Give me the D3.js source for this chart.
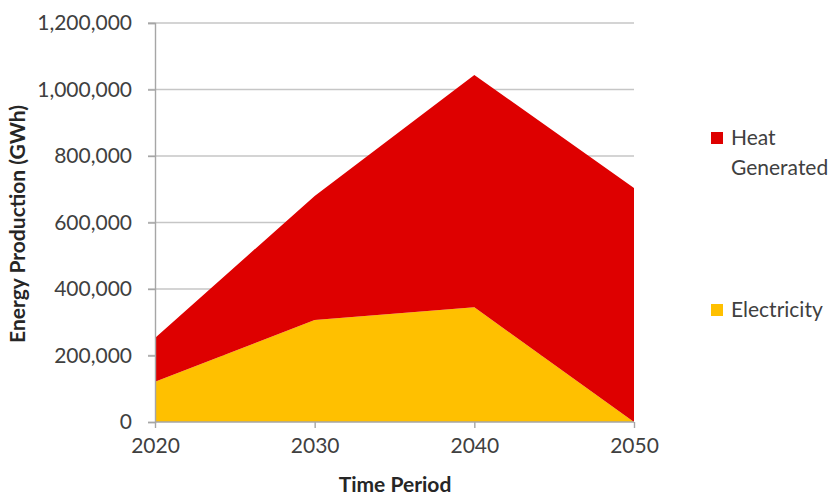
<!DOCTYPE html>
<html>
<head>
<meta charset="utf-8">
<script src="https://cdn.jsdelivr.net/npm/d3@7"></script>
<style>
  html, body { margin: 0; padding: 0; background: #fff; }
  svg { display: block; font-family: Lato, "Open Sans", sans-serif; }
</style>
</head>
<body>
<svg id="chart" width="835" height="495"></svg>
<script>
// Energy production by period, GWh
const periods = [2020, 2030, 2040, 2050];
const electricity = [121000, 307000, 345000, 0];
const heatGenerated = [131600, 373000, 698600, 703700];
const yTicks = [0, 200000, 400000, 600000, 800000, 1000000, 1200000];
const seriesColors = ["#DE0000", "#FFC000"];

const svg = d3.select("#chart");
const margin = { left: 155, right: 201, top: 23, bottom: 73 };
const W = 835, H = 495;

const x = d3.scalePoint().domain(periods).range([margin.left, W - margin.right]);
const y = d3.scaleLinear().domain([0, 1200000]).range([H - margin.bottom, margin.top]);

const rows = periods.map((p, i) => ({ period: p, electricity: electricity[i], heat: heatGenerated[i] }));
const layers = d3.stack().keys(["electricity", "heat"])(rows);

const fmt = d3.format(",");

// horizontal gridlines
svg.append("g")
  .selectAll("line")
  .data(yTicks.slice(1))
  .join("line")
  .attr("x1", margin.left - 7)
  .attr("x2", W - margin.right)
  .attr("y1", d => y(d))
  .attr("y2", d => y(d))
  .attr("stroke", "#C6C6C6")
  .attr("stroke-width", 1.4);

// stacked areas
const area = d3.area()
  .x(d => x(d.data.period))
  .y0(d => y(d[0]))
  .y1(d => y(d[1]));

svg.append("g")
  .selectAll("path")
  .data(layers)
  .join("path")
  .attr("d", area)
  .attr("fill", d => d.key === "heat" ? seriesColors[0] : seriesColors[1]);

// y axis
const yAxis = d3.axisLeft(y).tickValues(yTicks).tickFormat(fmt).tickSize(7).tickPadding(16);
const gy = svg.append("g").attr("transform", `translate(${margin.left},0)`).call(yAxis);
gy.select(".domain").attr("stroke", "#A6A6A6").attr("stroke-width", 1.4);
gy.selectAll(".tick line").attr("stroke", "#A6A6A6").attr("stroke-width", 1.4);
gy.selectAll(".tick text").attr("font-size", 21).attr("fill", "#404040").attr("font-family", "Lato, sans-serif");

// x axis
const xAxis = d3.axisBottom(x).tickSize(6).tickPadding(10);
const gx = svg.append("g").attr("transform", `translate(0,${H - margin.bottom})`).call(xAxis);
gx.select(".domain").attr("stroke", "#A6A6A6").attr("stroke-width", 1.4).attr("d", `M${margin.left},0H${W - margin.right}`);
gx.selectAll(".tick line").attr("stroke", "#A6A6A6").attr("stroke-width", 1.4);
gx.selectAll(".tick text").attr("font-size", 21).attr("fill", "#404040").attr("font-family", "Lato, sans-serif");

// axis titles
svg.append("text")
  .attr("x", 395)
  .attr("y", 492)
  .attr("text-anchor", "middle")
  .attr("font-size", 21)
  .attr("font-weight", "bold")
  .attr("fill", "#262626")
  .text("Time Period");

svg.append("text")
  .attr("transform", `translate(25,224) rotate(-90)`)
  .attr("text-anchor", "middle")
  .attr("font-size", 21)
  .attr("font-weight", "bold")
  .attr("fill", "#262626")
  .text("Energy Production (GWh)");

// legend
const legend = [
  { lines: ["Heat", "Generated"], color: seriesColors[0], y: 138 },
  { lines: ["Electricity"], color: seriesColors[1], y: 310 }
];
const lg = svg.append("g").selectAll("g").data(legend).join("g");
lg.append("rect")
  .attr("x", 711).attr("y", d => d.y - 6)
  .attr("width", 12).attr("height", 12)
  .attr("fill", d => d.color);
lg.append("text")
  .attr("x", 731).attr("y", d => d.y + 7)
  .attr("font-size", 21)
  .attr("fill", "#404040")
  .selectAll("tspan")
  .data(d => d.lines)
  .join("tspan")
  .attr("x", 731)
  .attr("dy", (d, i) => i === 0 ? 0 : 30)
  .text(d => d);
</script>
</body>
</html>
